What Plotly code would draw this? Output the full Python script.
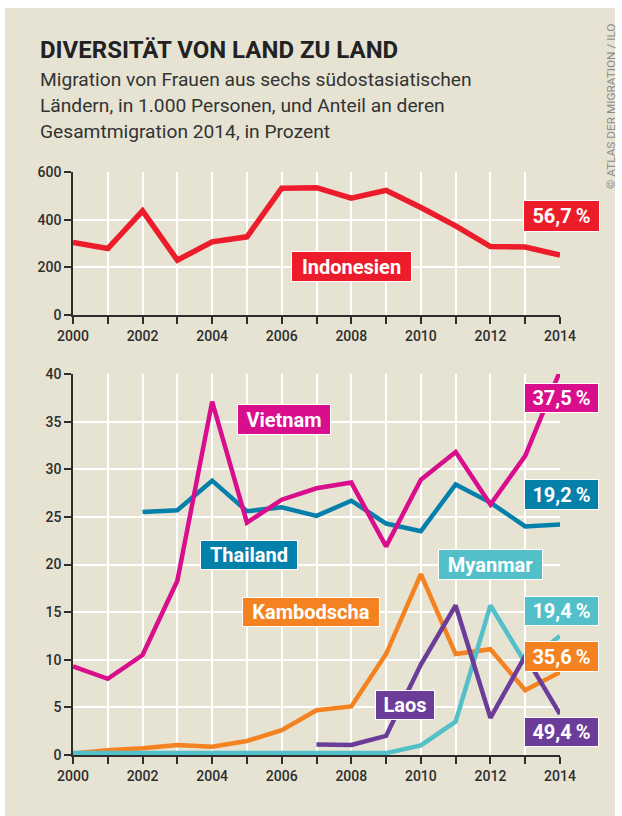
import plotly.graph_objects as go

W, H = 622, 816

years = list(range(2000, 2015))
indonesien = [304, 279, 437, 230, 307, 328, 532, 534, 490, 523, 451, 374, 287, 285, 251]

yrs_thai = list(range(2002, 2015))
thailand = [25.5, 25.7, 28.8, 25.6, 26.0, 25.1, 26.7, 24.3, 23.5, 28.4, 26.5, 24.0, 24.2]
vietnam = [9.3, 8.0, 10.5, 18.3, 37.1, 24.4, 26.8, 28.0, 28.6, 21.9, 28.9, 31.8, 26.3, 31.4, 40.3]
kambodscha = [0.15, 0.5, 0.7, 1.05, 0.87, 1.47, 2.6, 4.7, 5.1, 10.6, 19.0, 10.6, 11.1, 6.8, 8.7]
myanmar = [0.2, 0.2, 0.2, 0.2, 0.2, 0.2, 0.2, 0.2, 0.2, 0.2, 1.0, 3.5, 15.7, 9.7, 12.5]
yrs_laos = list(range(2007, 2015))
laos = [1.1, 1.05, 2.0, 9.5, 15.7, 3.9, 10.4, 4.3]

shares = {"Indonesien": "56,7\u2009%", "Vietnam": "37,5\u2009%", "Thailand": "19,2\u2009%",
          "Myanmar": "19,4\u2009%", "Kambodscha": "35,6\u2009%", "Laos": "49,4\u2009%"}

C = {"Indonesien": "#ec1c2a", "Vietnam": "#d80e8c", "Thailand": "#0580ab",
     "Myanmar": "#52bfc9", "Kambodscha": "#f58220", "Laos": "#6b3d98"}

BEIGE = "#e6e3d3"
DARK = "#2e2e2e"
FONT = "Roboto"


def px(x):
    return x / W


def py(y):
    return 1 - y / H


fig = go.Figure()

fig.add_trace(go.Scatter(x=years, y=indonesien, mode="lines", xaxis="x", yaxis="y",
                         line=dict(color=C["Indonesien"], width=5.5), hoverinfo="skip"))
fig.add_trace(go.Scatter(x=yrs_thai, y=thailand, mode="lines", xaxis="x2", yaxis="y2",
                         line=dict(color=C["Thailand"], width=4.5), hoverinfo="skip"))
fig.add_trace(go.Scatter(x=years, y=vietnam, mode="lines", xaxis="x2", yaxis="y2",
                         line=dict(color=C["Vietnam"], width=4.5), hoverinfo="skip"))
fig.add_trace(go.Scatter(x=years, y=kambodscha, mode="lines", xaxis="x2", yaxis="y2",
                         line=dict(color=C["Kambodscha"], width=4.5), hoverinfo="skip"))
fig.add_trace(go.Scatter(x=years, y=myanmar, mode="lines", xaxis="x2", yaxis="y2",
                         line=dict(color=C["Myanmar"], width=4.5), hoverinfo="skip"))
fig.add_trace(go.Scatter(x=yrs_laos, y=laos, mode="lines", xaxis="x2", yaxis="y2",
                         line=dict(color=C["Laos"], width=4.5), hoverinfo="skip"))

tick_text = [str(y) if y % 2 == 0 else "" for y in years]

xcommon = dict(range=[2000, 2014], tickvals=years, ticktext=tick_text, showgrid=True,
               gridcolor="white", gridwidth=1.5, showline=True, linecolor=DARK, linewidth=1.5,
               ticks="outside", ticklen=7, tickwidth=1.5, tickcolor=DARK, zeroline=False,
               automargin=False,
               tickfont=dict(family=FONT, size=14, color=DARK, weight=500), fixedrange=True)
ycommon = dict(showgrid=True, gridcolor="white", gridwidth=1.5, showline=True, linecolor=DARK,
               linewidth=1.5, ticks="outside", ticklen=7, tickwidth=1.5, tickcolor=DARK,
               zeroline=False, automargin=False,
               tickfont=dict(family=FONT, size=14, color=DARK, weight=500),
               fixedrange=True)

fig.update_layout(
    width=W, height=H, margin=dict(l=0, r=0, t=0, b=0, autoexpand=False),
    paper_bgcolor="white", plot_bgcolor="rgba(0,0,0,0)", showlegend=False,
    xaxis=dict(domain=[px(73), px(560)], anchor="y", **xcommon),
    yaxis=dict(domain=[py(315), py(172)], anchor="x", range=[0, 600],
               tickvals=[0, 200, 400, 600], **ycommon),
    xaxis2=dict(domain=[px(73), px(560)], anchor="y2", **xcommon),
    yaxis2=dict(domain=[py(755), py(374)], anchor="x2", range=[0, 40],
                tickvals=[0, 5, 10, 15, 20, 25, 30, 35, 40], **ycommon),
)

fig.add_shape(type="rect", xref="paper", yref="paper", x0=px(5), x1=px(615), y0=py(816), y1=py(8),
              fillcolor=BEIGE, line=dict(width=0), layer="below")

anns = []
anns.append(dict(text="<b>DIVERSITÄT VON LAND ZU LAND</b>", x=px(38), y=py(50), xanchor="left",
                 yanchor="middle", font=dict(family=FONT, size=24, color="#222")))
subtitle = ["Migration von Frauen aus sechs südostasiatischen",
            "Ländern, in 1.000 Personen, und Anteil an deren",
            "Gesamtmigration 2014, in Prozent"]
for i, line in enumerate(subtitle):
    anns.append(dict(text=line, x=px(38), y=py(80 + 25.5 * i), xanchor="left", yanchor="middle",
                     font=dict(family=FONT, size=19.2, color="#333")))
anns.append(dict(text="© ATLAS DER MIGRATION / ILO", x=px(611), y=py(107), textangle=-90,
                 xanchor="center", yanchor="middle", font=dict(family=FONT, size=11.8, color="#8c8c8c")))

# label boxes: (text, color key, center x px, center y px, box width, box height)
boxes = [
    ("Indonesien", "Indonesien", 351.5, 266.5, 121, 31),
    (shares["Indonesien"], "Indonesien", 561.5, 216, 77, 32),
    ("Vietnam", "Vietnam", 284, 419.5, 94, 31),
    (shares["Vietnam"], "Vietnam", 561.5, 398, 75, 30),
    ("Thailand", "Thailand", 249, 555, 98, 30),
    (shares["Thailand"], "Thailand", 561.5, 494.5, 75, 31),
    ("Myanmar", "Myanmar", 490.5, 564.5, 105, 31),
    (shares["Myanmar"], "Myanmar", 561.5, 611, 75, 30),
    ("Kambodscha", "Kambodscha", 311, 612, 138, 30),
    (shares["Kambodscha"], "Kambodscha", 561.5, 656.5, 75, 31),
    ("Laos", "Laos", 405, 705, 60, 30),
    (shares["Laos"], "Laos", 561.5, 732, 75, 30),
]
for text, key, cx, cy, bw, bh in boxes:
    anns.append(dict(text=f"<b>{text}</b>", x=px(cx), y=py(cy), xanchor="center", yanchor="middle",
                     showarrow=False, bgcolor=C[key], bordercolor="white", borderwidth=1,
                     borderpad=0, width=bw - 2, height=bh - 2, align="center", valign="middle",
                     font=dict(family=FONT, size=20, color="white")))

for a in anns:
    a.setdefault("showarrow", False)
    a["xref"] = "paper"
    a["yref"] = "paper"
fig.update_layout(annotations=anns)

fig.write_html("out.html", config={"displayModeBar": False},
               post_script="document.body.style.margin='0';document.body.style.padding='0';")
